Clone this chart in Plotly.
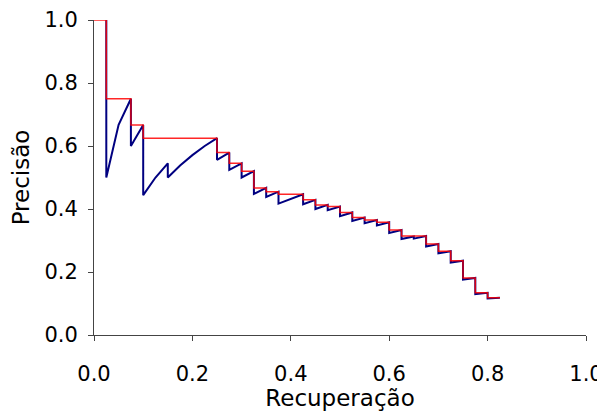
import plotly.graph_objects as go

# Recall (x) and raw precision (y) at each retrieved document
recall = [0.025, 0.025, 0.050, 0.075, 0.075, 0.100, 0.100, 0.125, 0.150, 0.150,
          0.175, 0.200, 0.225, 0.250, 0.250, 0.275, 0.275, 0.300, 0.300, 0.325,
          0.325, 0.350, 0.350, 0.375, 0.375, 0.400, 0.425, 0.425, 0.450, 0.450,
          0.475, 0.475, 0.500, 0.500, 0.525, 0.525, 0.550, 0.550, 0.575, 0.575,
          0.600, 0.600, 0.625, 0.625, 0.650, 0.650, 0.675, 0.675, 0.700, 0.700,
          0.725, 0.725, 0.750, 0.750, 0.775, 0.775, 0.800, 0.800, 0.825]
precision = [1.000, 0.500, 0.667, 0.750, 0.600, 0.667, 0.444, 0.500, 0.545, 0.500,
             0.538, 0.571, 0.600, 0.625, 0.556, 0.579, 0.524, 0.545, 0.500, 0.520,
             0.448, 0.467, 0.438, 0.455, 0.417, 0.432, 0.447, 0.415, 0.429, 0.400,
             0.413, 0.396, 0.408, 0.377, 0.389, 0.362, 0.373, 0.355, 0.365, 0.348,
             0.358, 0.324, 0.333, 0.305, 0.313, 0.306, 0.314, 0.281, 0.289, 0.259,
             0.266, 0.230, 0.236, 0.176, 0.181, 0.130, 0.134, 0.116, 0.118]

# Interpolated precision (red), starting at recall 0
interp_recall = [0.0] + recall
interp_precision = [1.000,
                    1.000, 0.750, 0.750, 0.750, 0.667, 0.667, 0.625, 0.625, 0.625, 0.625,
                    0.625, 0.625, 0.625, 0.625, 0.579, 0.579, 0.545, 0.545, 0.520, 0.520,
                    0.467, 0.467, 0.455, 0.455, 0.447, 0.447, 0.447, 0.429, 0.429, 0.413,
                    0.413, 0.408, 0.408, 0.389, 0.389, 0.373, 0.373, 0.365, 0.365, 0.358,
                    0.358, 0.333, 0.333, 0.314, 0.314, 0.314, 0.314, 0.289, 0.289, 0.266,
                    0.266, 0.236, 0.236, 0.181, 0.181, 0.134, 0.134, 0.118, 0.118]

tick_vals = [0.0, 0.2, 0.4, 0.6, 0.8, 1.0]
tick_text = ["0.0", "0.2", "0.4", "0.6", "0.8", "1.0"]

fig = go.Figure()
fig.add_trace(go.Scatter(x=recall, y=precision, mode="lines",
                         line=dict(color="#000080", width=2), hoverinfo="skip"))
fig.add_trace(go.Scatter(x=interp_recall, y=interp_precision, mode="lines",
                         line=dict(color="rgba(255,0,0,0.85)", width=1.5), hoverinfo="skip"))

tick_font = dict(family="DejaVu Sans", size=21, color="black")
title_font = dict(family="DejaVu Sans", size=23, color="black")
# the page body adds an 8px offset, so the figure is sized to fit the window
fig.update_layout(
    width=597, height=403,
    margin=dict(l=86, r=19, t=12, b=76, autoexpand=False),
    paper_bgcolor="white", plot_bgcolor="white",
    showlegend=False,
    font=tick_font,
)
fig.update_xaxes(range=[0, 1], tickvals=tick_vals, ticktext=tick_text,
                 showgrid=False, zeroline=False, showline=True, linecolor="#444",
                 linewidth=1, ticks="outside", ticklen=5, tickcolor="#444",
                 ticklabelstandoff=15, automargin=False,
                 title=dict(text="Recuperação", font=title_font, standoff=7),
                 tickfont=tick_font)
fig.update_yaxes(range=[0, 1], tickvals=tick_vals, ticktext=tick_text,
                 showgrid=False, zeroline=False, showline=True, linecolor="#444",
                 linewidth=1, ticks="outside", ticklen=5, tickcolor="#444",
                 ticklabelstandoff=6, automargin=False,
                 title=dict(text="Precisão", font=title_font, standoff=13),
                 tickfont=tick_font)

fig.write_html("out.html")
